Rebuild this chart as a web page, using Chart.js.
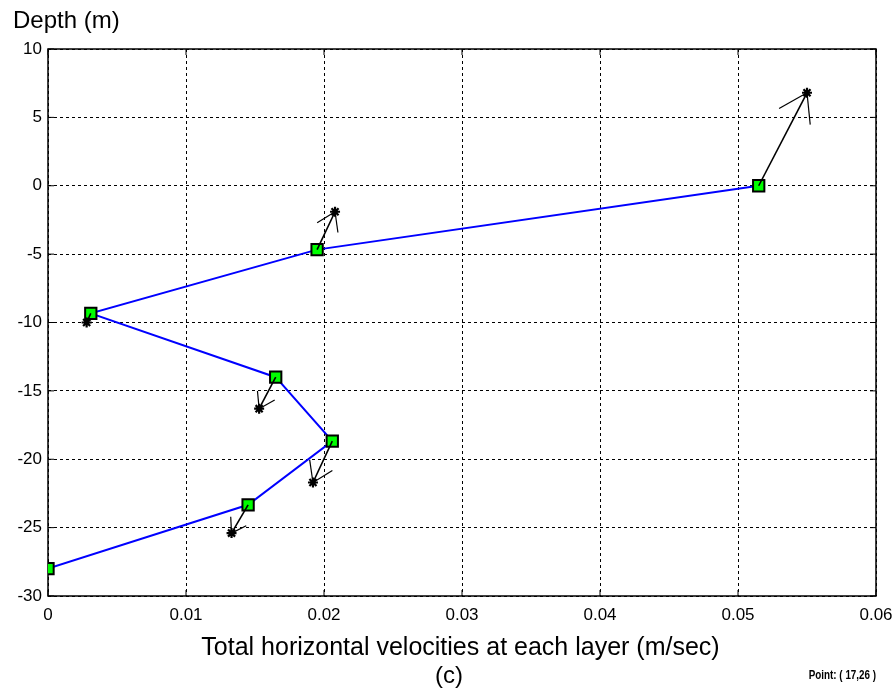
<!DOCTYPE html>
<html>
<head>
<meta charset="utf-8">
<script src="https://cdn.jsdelivr.net/npm/chart.js@4.4.0/dist/chart.umd.min.js"></script>
<style>
body { margin: 0; background: #fff; }
#wrap { position: relative; width: 893px; height: 695px; font-family: "Liberation Sans", Arial, sans-serif; color: #000; }
#myChart { position: absolute; left: 0; top: 0; }
.lbl { position: absolute; white-space: nowrap; }
</style>
</head>
<body>
<div id="wrap">
    <canvas id="myChart" width="893" height="695"></canvas>
    <div class="lbl" style="left:13px; top:6px; font-size:24px;">Depth (m)</div>
    <div class="lbl" style="left:0; width:921px; text-align:center; top:632px; font-size:25px;">Total horizontal velocities at each layer (m/sec)</div>
    <div class="lbl" style="left:0; width:898px; text-align:center; top:661px; font-size:24px;">(c)</div>
    <div class="lbl" style="right:17px; top:668px; font-size:12px; font-weight:bold; transform:scaleX(0.82); transform-origin:right center;">Point: ( 17,26 )</div>
</div>
<script>
// layer depths (m) and total horizontal velocity at each layer (m/sec)
const depth = [0, -4.67, -9.33, -14, -18.67, -23.33, -28];
const velocity = [0.0515, 0.0195, 0.0031, 0.0165, 0.0206, 0.0145, 0];

// tips of the velocity arrows, one per layer (bottom layer has none)
const arrowTipX = [0.0550, 0.0208, 0.0028, 0.0153, 0.0192, 0.0133];
const arrowTipY = [6.8, -1.9, -10.0, -16.3, -21.7, -25.4];

const xTickLabels = ['0', '0.01', '0.02', '0.03', '0.04', '0.05', '0.06'];
const yTickLabels = ['-30', '-25', '-20', '-15', '-10', '-5', '0', '5', '10'];

let myChart;

function makeDatasets() {
    var sets = [];
    sets.push({
        data: velocity.map((v, i) => ({ x: v, y: depth[i] })),
        showLine: true,
        borderColor: '#0000ff',
        borderWidth: 2,
        pointStyle: 'rect',
        pointRadius: 8,
        pointBackgroundColor: '#00ff00',
        pointBorderColor: '#000',
        pointBorderWidth: 2,
        order: 1
    });
    for (var i = 0; i < arrowTipX.length; i++) {
        sets.push({
            data: [{ x: velocity[i], y: depth[i] }, { x: arrowTipX[i], y: arrowTipY[i] }],
            showLine: true,
            borderColor: '#000',
            borderWidth: 1.6,
            pointStyle: 'star',
            pointRadius: [0, 5],
            pointBorderColor: '#000',
            pointBackgroundColor: '#000',
            pointBorderWidth: 2.2,
            order: 0
        });
    }
    return sets;
}

// axes box with short inward tick marks, matlab style
const boxPlugin = {
    id: 'box',
    beforeDatasetsDraw(chart) {
        var a = chart.chartArea, ctx = chart.ctx;
        var sx = chart.scales.x, sy = chart.scales.y;
        ctx.save();
        ctx.strokeStyle = '#000';
        ctx.lineWidth = 1.5;
        ctx.strokeRect(a.left, a.top, a.right - a.left, a.bottom - a.top);
        ctx.lineWidth = 1;
        ctx.beginPath();
        sx.ticks.forEach(function (t) {
            var px = sx.getPixelForValue(t.value);
            ctx.moveTo(px, a.bottom); ctx.lineTo(px, a.bottom - 6);
            ctx.moveTo(px, a.top); ctx.lineTo(px, a.top + 6);
        });
        sy.ticks.forEach(function (t) {
            var py = sy.getPixelForValue(t.value);
            ctx.moveTo(a.left, py); ctx.lineTo(a.left + 6, py);
            ctx.moveTo(a.right, py); ctx.lineTo(a.right - 6, py);
        });
        ctx.stroke();
        ctx.restore();
    }
};

// open arrow heads at each tip
const arrowHeads = {
    id: 'arrowHeads',
    afterDatasetsDraw(chart) {
        var ctx = chart.ctx, sx = chart.scales.x, sy = chart.scales.y;
        ctx.save();
        ctx.strokeStyle = '#000';
        ctx.lineWidth = 1.2;
        for (var i = 0; i < arrowTipX.length; i++) {
            var x0 = sx.getPixelForValue(velocity[i]), y0 = sy.getPixelForValue(depth[i]);
            var x1 = sx.getPixelForValue(arrowTipX[i]), y1 = sy.getPixelForValue(arrowTipY[i]);
            var len = Math.hypot(x1 - x0, y1 - y0);
            var back = Math.atan2(y0 - y1, x0 - x1);
            var h = Math.min(len * 0.5, 32);
            [-0.58, 0.58].forEach(function (d) {
                ctx.beginPath();
                ctx.moveTo(x1, y1);
                ctx.lineTo(x1 + h * Math.cos(back + d), y1 + h * Math.sin(back + d));
                ctx.stroke();
            });
        }
        ctx.restore();
    }
};

function createChart() {
    var ctx = document.getElementById('myChart').getContext('2d');
    var tickFont = { family: '"Liberation Sans", Arial, sans-serif', size: 17 };

    var options = {
        responsive: false,
        animation: false,
        layout: { padding: { top: 49, right: 17, left: 0, bottom: 0 } },
        plugins: {
            legend: { display: false },
            tooltip: { enabled: false }
        },
        scales: {
            x: {
                type: 'linear',
                min: 0,
                max: 0.06,
                afterFit: function (scale) {
                    scale.height = 99;
                    scale.paddingRight = 0;
                    scale.paddingLeft = 0;
                },
                ticks: {
                    stepSize: 0.01,
                    color: '#000',
                    font: tickFont,
                    padding: 9,
                    maxRotation: 0,
                    callback: (v, i) => xTickLabels[i]
                },
                grid: { color: '#000', lineWidth: 1, drawTicks: false },
                border: { display: false, dash: [3, 3] }
            },
            y: {
                type: 'linear',
                min: -30,
                max: 10,
                afterFit: function (scale) {
                    scale.width = 48;
                    scale.paddingTop = 0;
                    scale.paddingBottom = 0;
                },
                ticks: {
                    stepSize: 5,
                    color: '#000',
                    font: tickFont,
                    padding: 6,
                    callback: (v, i) => yTickLabels[i]
                },
                grid: { color: '#000', lineWidth: 1, drawTicks: false },
                border: { display: false, dash: [3, 3] }
            }
        }
    };

    myChart = new Chart(ctx, {
        type: 'scatter',
        data: { datasets: makeDatasets() },
        options: options,
        plugins: [boxPlugin, arrowHeads]
    });
}

createChart();
</script>
</body>
</html>
